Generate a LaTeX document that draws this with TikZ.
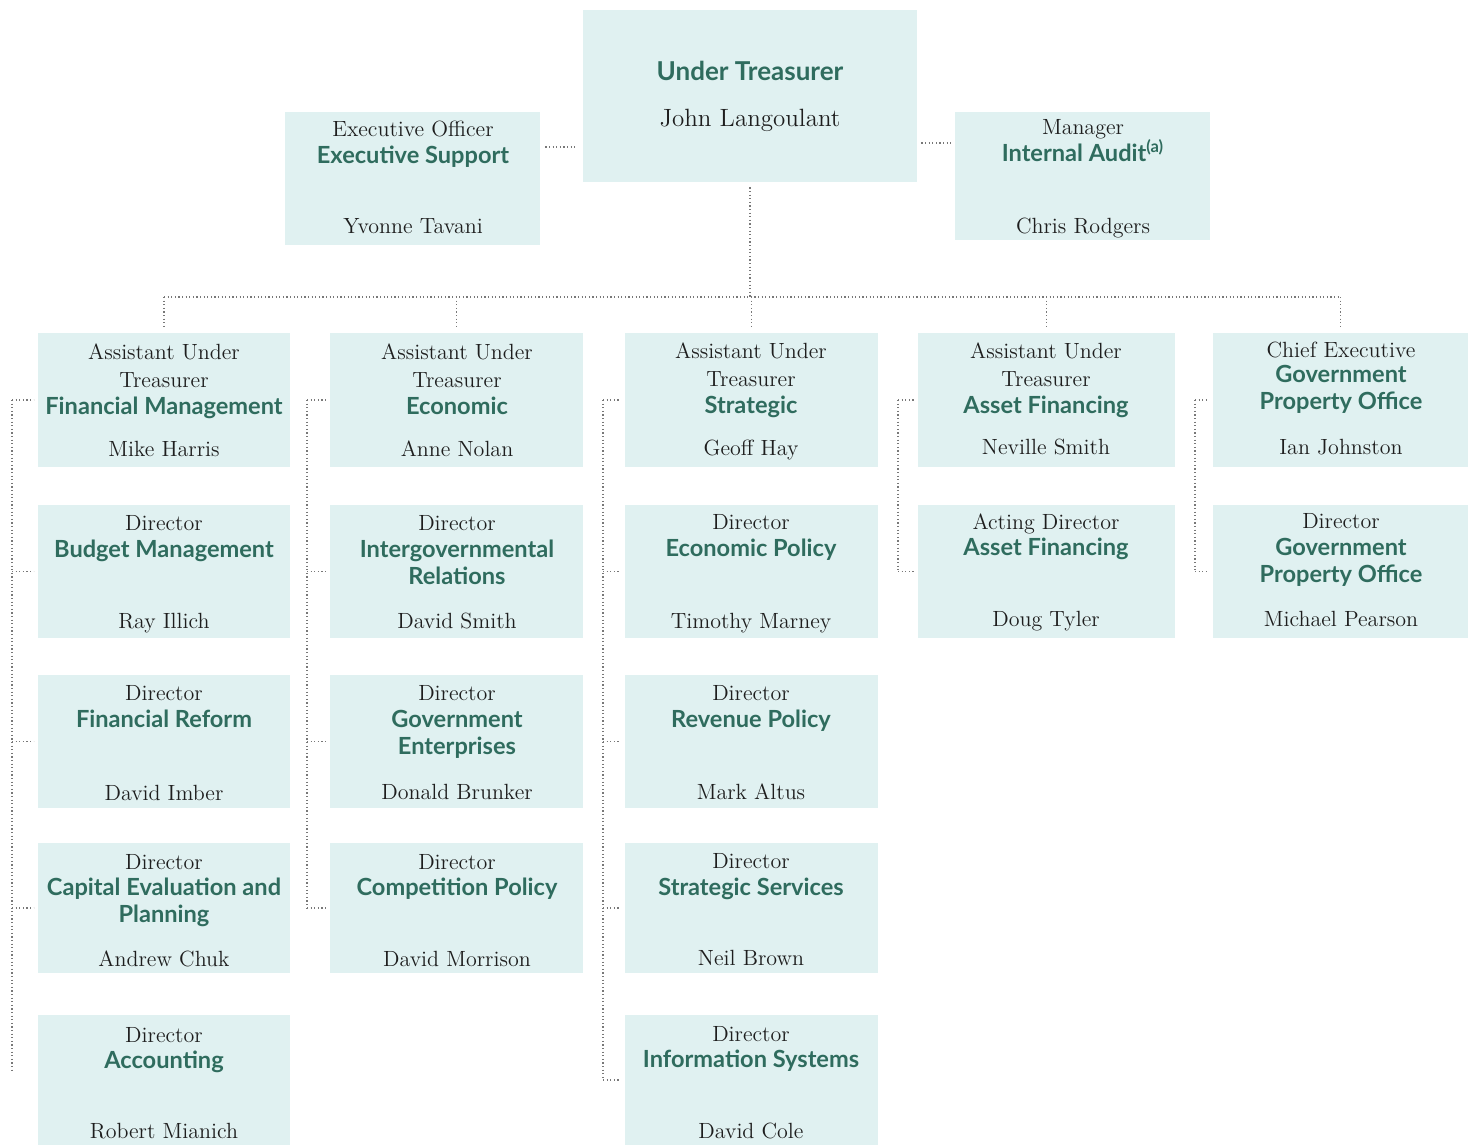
\documentclass[tikz,border=0pt]{standalone}
\usepackage{fontspec}
\newfontfamily\unitfont{Lato}
\usetikzlibrary{fit}
\definecolor{boxfill}{RGB}{224,241,241}
\definecolor{teal0}{RGB}{47,108,94}
\definecolor{textc}{RGB}{30,30,30}
\definecolor{lineg}{RGB}{120,120,120}
\tikzset{
  box/.style={fill=boxfill, draw=none, inner sep=0pt, rectangle},
  role/.style={font=\fontsize{11}{13}\selectfont, text=textc, inner sep=0pt, anchor=base, yshift=-3.6pt},
  unit/.style={font=\unitfont\bfseries\fontsize{11.8}{14}\selectfont, text=teal0, inner sep=0pt, anchor=base, yshift=-3.6pt},
  conn/.style={draw=lineg, line width=0.6pt, dash pattern=on 0.6pt off 1.2pt},
}
\begin{document}
\begin{tikzpicture}[x=0.5pt,y=-0.5pt]
\useasboundingbox (0,0) rectangle (1472,1145);
% ---------- top level ----------
\node[box, fit={(583,10)(917,182)}] (ut) {};
\node[unit, font=\unitfont\bfseries\fontsize{13}{15}\selectfont] (ut1) at (750,73) {Under Treasurer};
\node[role, font=\fontsize{12.5}{14}\selectfont] (ut2) at (750,119) {John Langoulant};

\node[box, fit={(285,112)(540,245)}] (es) {};
\node[role] (es1) at (413,129) {Executive Officer};
\node[unit] (es2) at (413,156) {Executive Support};
\node[role] (es3) at (413,226) {Yvonne Tavani};

\node[box, fit={(955,112)(1210,240)}] (ia) {};
\node[role] (ia1) at (1083,127) {Manager};
\node[unit] (ia2) at (1083,154) {Internal Audit\textsuperscript{(a)}};
\node[role] (ia3) at (1083,226) {Chris Rodgers};

% ---------- column 1 ----------
\node[box, fit={(38,333)(290,467)}] (a1) {};
\node[role] (a1t1) at (164,352) {Assistant Under};
\node[role] (a1t2) at (164,380) {Treasurer};
\node[unit] (a1t3) at (164,407) {Financial Management};
\node[role] (a1t4) at (164,449) {Mike Harris};

\node[box, fit={(38,505)(290,638)}] (b1) {};
\node[role] (b1t1) at (164,523) {Director};
\node[unit] (b1t2) at (164,550) {Budget Management};
\node[role] (b1t3) at (164,621) {Ray Illich};

\node[box, fit={(38,675)(290,808)}] (c1) {};
\node[role] (c1t1) at (164,693) {Director};
\node[unit] (c1t2) at (164,720) {Financial Reform};
\node[role] (c1t3) at (164,793) {David Imber};

\node[box, fit={(38,843)(290,973)}] (d1) {};
\node[role] (d1t1) at (164,862) {Director};
\node[unit] (d1t2) at (164,888) {Capital Evaluation and};
\node[unit] (d1t3) at (164,915) {Planning};
\node[role] (d1t4) at (164,959) {Andrew Chuk};

\node[box, fit={(38,1015)(290,1145)}] (e1) {};
\node[role] (e1t1) at (164,1035) {Director};
\node[unit] (e1t2) at (164,1061) {Accounting};
\node[role] (e1t3) at (164,1131) {Robert Mianich};

% ---------- column 2 ----------
\node[box, fit={(330,333)(583,467)}] (a2) {};
\node[role] (a2t1) at (457,352) {Assistant Under};
\node[role] (a2t2) at (457,380) {Treasurer};
\node[unit] (a2t3) at (457,407) {Economic};
\node[role] (a2t4) at (457,449) {Anne Nolan};

\node[box, fit={(330,505)(583,638)}] (b2) {};
\node[role] (b2t1) at (457,523) {Director};
\node[unit] (b2t2) at (457,550) {Intergovernmental};
\node[unit] (b2t3) at (457,577) {Relations};
\node[role] (b2t4) at (457,621) {David Smith};

\node[box, fit={(330,675)(583,808)}] (c2) {};
\node[role] (c2t1) at (457,693) {Director};
\node[unit] (c2t2) at (457,720) {Government};
\node[unit] (c2t3) at (457,747) {Enterprises};
\node[role] (c2t4) at (457,792) {Donald Brunker};

\node[box, fit={(330,843)(583,973)}] (d2) {};
\node[role] (d2t1) at (457,862) {Director};
\node[unit] (d2t2) at (457,888) {Competition Policy};
\node[role] (d2t3) at (457,959) {David Morrison};

% ---------- column 3 ----------
\node[box, fit={(625,333)(878,467)}] (a3) {};
\node[role] (a3t1) at (751,351) {Assistant Under};
\node[role] (a3t2) at (751,379) {Treasurer};
\node[unit] (a3t3) at (751,406) {Strategic};
\node[role] (a3t4) at (751,448) {Geoff Hay};

\node[box, fit={(625,505)(878,638)}] (b3) {};
\node[role] (b3t1) at (751,522) {Director};
\node[unit] (b3t2) at (751,549) {Economic Policy};
\node[role] (b3t3) at (751,621) {Timothy Marney};

\node[box, fit={(625,675)(878,808)}] (c3) {};
\node[role] (c3t1) at (751,693) {Director};
\node[unit] (c3t2) at (751,720) {Revenue Policy};
\node[role] (c3t3) at (751,792) {Mark Altus};

\node[box, fit={(625,843)(878,973)}] (d3) {};
\node[role] (d3t1) at (751,861) {Director};
\node[unit] (d3t2) at (751,888) {Strategic Services};
\node[role] (d3t3) at (751,958) {Neil Brown};

\node[box, fit={(625,1015)(878,1145)}] (e3) {};
\node[role] (e3t1) at (751,1034) {Director};
\node[unit] (e3t2) at (751,1060) {Information Systems};
\node[role] (e3t3) at (751,1131) {David Cole};

% ---------- column 4 ----------
\node[box, fit={(918,333)(1175,467)}] (a4) {};
\node[role] (a4t1) at (1046,351) {Assistant Under};
\node[role] (a4t2) at (1046,379) {Treasurer};
\node[unit] (a4t3) at (1046,406) {Asset Financing};
\node[role] (a4t4) at (1046,447) {Neville Smith};

\node[box, fit={(918,505)(1175,638)}] (b4) {};
\node[role] (b4t1) at (1046,522) {Acting Director};
\node[unit] (b4t2) at (1046,548) {Asset Financing};
\node[role] (b4t3) at (1046,619) {Doug Tyler};

% ---------- column 5 ----------
\node[box, fit={(1213,333)(1468,467)}] (a5) {};
\node[role] (a5t1) at (1341,350) {Chief Executive};
\node[unit] (a5t2) at (1341,375) {Government};
\node[unit] (a5t3) at (1341,402) {Property Office};
\node[role] (a5t4) at (1341,447) {Ian Johnston};

\node[box, fit={(1213,505)(1468,638)}] (b5) {};
\node[role] (b5t1) at (1341,521) {Director};
\node[unit] (b5t2) at (1341,548) {Government};
\node[unit] (b5t3) at (1341,575) {Property Office};
\node[role] (b5t4) at (1341,619) {Michael Pearson};

% ---------- connectors ----------
\coordinate (stubL) at (0,147);
\coordinate (stubR) at (0,143);
\coordinate (bus) at (0,297);
\draw[conn, shorten <=2.5pt, shorten >=4pt] (es.east |- stubL) -- (ut.west |- stubL);
\draw[conn, shorten <=2pt, shorten >=1pt] (ut.east |- stubR) -- (ia.west |- stubR);
\draw[conn, shorten <=2.5pt] (ut.south) -- (ut.south |- bus);
\draw[conn] (a1.north |- bus) -- (a5.north |- bus);
\foreach \n in {a1,a2,a3,a4,a5}{
  \draw[conn, shorten >=2pt] (\n.north |- bus) -- (\n.north);
}
% left-hand feeders
\coordinate (v1) at (12,0);
\coordinate (v2) at (307,0);
\coordinate (v3) at (603,0);
\coordinate (v4) at (898,0);
\coordinate (v5) at (1195,0);
\coordinate (end1) at (12,1070);
\draw[conn] (a1.west -| v1) -- (end1);
\foreach \n in {a1,b1,c1,d1}{ \draw[conn, shorten >=2pt] (\n.west -| v1) -- (\n.west); }
\draw[conn] (a2.west -| v2) -- (d2.west -| v2);
\foreach \n in {a2,b2,c2,d2}{ \draw[conn, shorten >=2pt] (\n.west -| v2) -- (\n.west); }
\draw[conn] (a3.west -| v3) -- (e3.west -| v3);
\foreach \n in {a3,b3,c3,d3,e3}{ \draw[conn, shorten >=2pt] (\n.west -| v3) -- (\n.west); }
\draw[conn] (a4.west -| v4) -- (b4.west -| v4);
\foreach \n in {a4,b4}{ \draw[conn, shorten >=2pt] (\n.west -| v4) -- (\n.west); }
\draw[conn] (a5.west -| v5) -- (b5.west -| v5);
\foreach \n in {a5,b5}{ \draw[conn, shorten >=2pt] (\n.west -| v5) -- (\n.west); }
\end{tikzpicture}
\end{document}
